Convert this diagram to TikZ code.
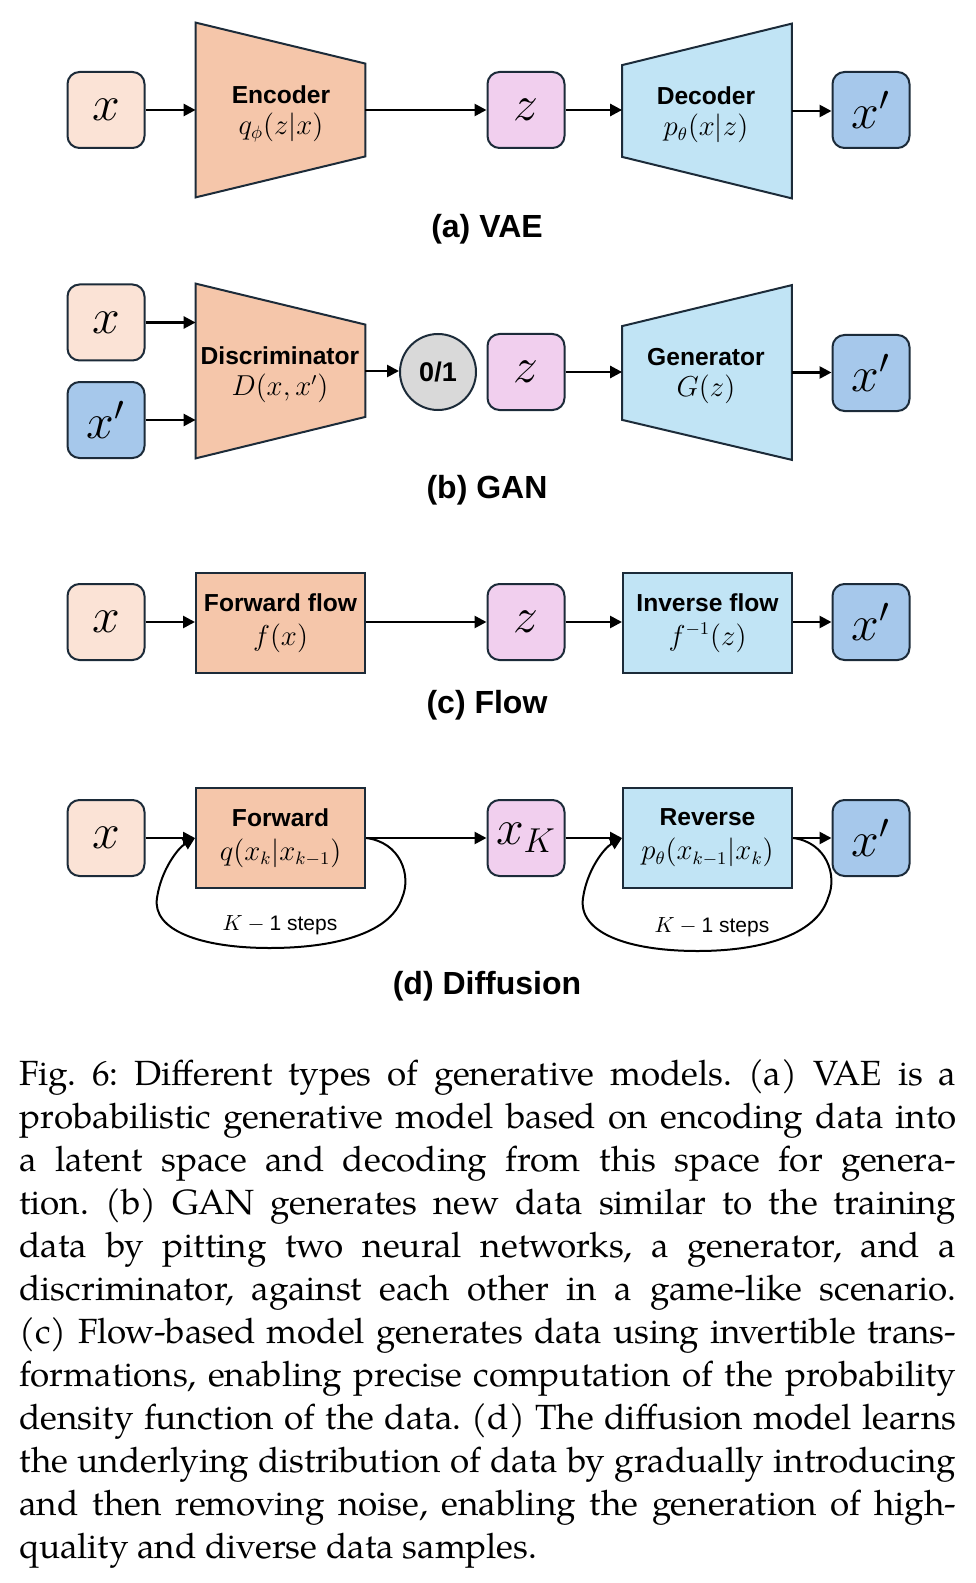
\documentclass[tikz,border=0pt]{standalone}
\usepackage[no-math]{fontspec}
\setmainfont{TeX Gyre Pagella}
\newfontfamily\labfont{Liberation Sans}
\usetikzlibrary{arrows.meta,calc}
\definecolor{peach}{HTML}{FBE3D6}
\definecolor{orng}{HTML}{F5C6AA}
\definecolor{pinkz}{HTML}{F1CFEE}
\definecolor{lblue}{HTML}{C1E4F5}
\definecolor{dblue}{HTML}{A6C8EB}
\definecolor{grayc}{HTML}{D9D9D9}
\definecolor{bord}{HTML}{1C2B39}
\pgfdeclarelayer{bg}
\pgfsetlayers{bg,main}
\newcommand\capline[1]{\hbox to 468.5pt{\frenchspacing\spaceskip=0.25em plus 0.6em minus 0.08em\relax #1}}
\newcommand\caplast[1]{\hbox to 468.5pt{\frenchspacing\spaceskip=0.25em plus 0.6em minus 0.08em\relax #1\hfil}}
\newcommand\mth[1]{{\fontsize{13.5}{15.5}\selectfont$#1$}}
\begin{document}
\begin{tikzpicture}[x=0.5pt,y=-0.5pt,
  vbox/.style={draw=bord, line width=1pt, rounded corners=6pt, minimum width=38.5pt, minimum height=38pt, inner sep=0pt, font=\fontsize{23}{24}\selectfont},
  trap/.style={minimum width=84.5pt, minimum height=87pt, inner sep=0pt, align=center, font=\labfont\bfseries\fontsize{12.3}{16}\selectfont},
  trapline/.style={draw=bord, line width=1pt, line join=miter},
  rectblk/.style={draw=bord, line width=1pt, minimum width=84.5pt, minimum height=50pt, inner sep=0pt, align=center, font=\labfont\bfseries\fontsize{12.3}{16}\selectfont},
  arr/.style={line width=1.3pt, -{Triangle[length=6pt,width=6pt]}},
  looparr/.style={line width=1pt, -{Triangle[length=6pt,width=6pt]}},
  title/.style={font=\labfont\bfseries\fontsize{16}{19}\selectfont, inner sep=0pt},
  steps/.style={font=\labfont\fontsize{10.5}{12}\selectfont, inner sep=0pt},
  lbl/.style={inner sep=0pt, align=center, font=\labfont\bfseries\fontsize{12.3}{16}\selectfont},
  capt/.style={anchor=north west, inner sep=0pt, text width=468.5pt, font=\fontsize{17.5}{21.5}\selectfont}
]
\useasboundingbox (0,0) rectangle (975,1583);

% ---------- (a) VAE ----------
\node[vbox, fill=peach] (xa) at (106,110) {$x$};
\node[trap] (enc) at (280.5,110) {};
\node[lbl] (encl) at (281,114) {Encoder\\[-0.5pt]\mth{q_\phi(z|x)}};
\node[vbox, fill=pinkz] (za) at (526,110) {$z$};
\node[trap] (dec) at (707,111) {};
\node[lbl] (decl) at (706,115) {Decoder\\[-0.5pt]\mth{p_\theta(x|z)}};
\node[vbox, fill=dblue] (xpa) at (871,110) {$x'$};
\begin{pgfonlayer}{bg}
\draw[trapline, fill=orng] (enc.north west) -- ([yshift=-20.5pt]enc.north east) -- ([yshift=20.5pt]enc.south east) -- (enc.south west) -- cycle;
\draw[trapline, fill=lblue] ([yshift=-20.75pt]dec.north west) -- (dec.north east) -- (dec.south east) -- ([yshift=20.75pt]dec.south west) -- cycle;
\end{pgfonlayer}
\draw[arr] (xa.east) -- (xa.east -| enc.west);
\draw[arr] (enc.east) -- (enc.east -| za.west);
\draw[arr] (za.east) -- (za.east -| dec.west);
\draw[arr] (dec.east) -- (dec.east -| xpa.west);
\node[title] (ta) at (487,229) {(a) VAE};

% ---------- (b) GAN ----------
\node[vbox, fill=peach] (xb) at (106,322.5) {$x$};
\node[vbox, fill=dblue] (xpb) at (106,420) {$x'$};
\node[trap] (dis) at (280.5,371) {};
\node[lbl] (disl) at (280,375) {Discriminator\\[-0.5pt]\mth{D(x,x')}};
\node[circle, draw=bord, line width=1pt, fill=grayc, minimum size=38pt, inner sep=0pt, font=\labfont\bfseries\fontsize{13.5}{15}\selectfont] (cir) at (438,372) {0/1};
\node[vbox, fill=pinkz] (zb) at (526,372) {$z$};
\node[trap] (gen) at (707,372.5) {};
\node[lbl] (genl) at (706,376) {Generator\\[-0.5pt]\mth{G(z)}};
\node[vbox, fill=dblue] (xpbb) at (871,373) {$x'$};
\begin{pgfonlayer}{bg}
\draw[trapline, fill=orng] (dis.north west) -- ([yshift=-20.5pt]dis.north east) -- ([yshift=20.75pt]dis.south east) -- (dis.south west) -- cycle;
\draw[trapline, fill=lblue] ([yshift=-20.5pt]gen.north west) -- (gen.north east) -- (gen.south east) -- ([yshift=20pt]gen.south west) -- cycle;
\end{pgfonlayer}
\draw[arr] (xb.east) -- (xb.east -| dis.west);
\draw[arr] (xpb.east) -- (xpb.east -| dis.west);
\draw[arr] (dis.east) -- (dis.east -| cir.west);
\draw[arr] (zb.east) -- (zb.east -| gen.west);
\draw[arr] (gen.east) -- (gen.east -| xpbb.west);
\node[title] (tb) at (487,490) {(b) GAN};

% ---------- (c) Flow ----------
\node[vbox, fill=peach] (xc) at (106,622) {$x$};
\node[rectblk, fill=orng] (ff) at (280.5,623) {Forward flow\\[1pt]\mth{f(x)}};
\node[vbox, fill=pinkz] (zc) at (526,622) {$z$};
\node[rectblk, fill=lblue] (inv) at (707.5,623) {Inverse flow\\[1pt]\mth{f^{-1}(z)}};
\node[vbox, fill=dblue] (xpc) at (871,622) {$x'$};
\draw[arr] (xc.east) -- (xc.east -| ff.west);
\draw[arr] (ff.east |- zc.west) -- (zc.west);
\draw[arr] (zc.east) -- (zc.east -| inv.west);
\draw[arr] (inv.east |- xpc.west) -- (xpc.west);
\node[title] (tc) at (487,705) {(c) Flow};

% ---------- (d) Diffusion ----------
\node[vbox, fill=peach] (xd) at (106,838) {$x$};
\node[rectblk, fill=orng] (fwd) at (280.5,838) {Forward\\[1pt]\mth{q(x_k|x_{k-1})}};
\node[vbox, fill=pinkz] (xk) at (526,838) {$x_K$};
\node[rectblk, fill=lblue] (rev) at (707.5,838) {Reverse\\[1pt]\mth{p_\theta(x_{k-1}|x_k)}};
\node[vbox, fill=dblue] (xpd) at (871,838) {$x'$};
\draw[arr] (xd.east) -- (fwd.west);
\draw[arr] (fwd.east) -- (xk.west);
\draw[arr] (xk.east) -- (rev.west);
\draw[arr] (rev.east) -- (xpd.west);
\draw[looparr] (fwd.east) .. controls (400,842) and (412,875) .. (402,898)
  .. controls (390,935) and (330,948) .. (270,948)
  .. controls (200,948) and (152,930) .. (157,898)
  .. controls (161,870) and (178,848) .. (fwd.west);
\draw[looparr] (rev.east) .. controls (826,842) and (838,875) .. (828,898)
  .. controls (816,937) and (756,951) .. (698,951)
  .. controls (626,951) and (578,932) .. (583,898)
  .. controls (587,870) and (604,848) .. (rev.west);
\node[steps] (sf) at (280,925) {$K-{}$1 steps};
\node[steps] (sr) at (712,927) {$K-{}$1 steps};
\node[title] (td) at (487,986) {(d) Diffusion};

% ---------- caption ----------
\node[capt] (cap) at (19,1057) {%
\capline{\rule{0pt}{14pt}Fig. 6: Different types of generative models. (a) VAE is a}
\capline{probabilistic generative model based on encoding data into}
\capline{a latent space and decoding from this space for genera-}
\capline{tion. (b) GAN generates new data similar to the training}
\capline{data by pitting two neural networks, a generator, and a}
\capline{discriminator, against each other in a game-like scenario.}
\capline{(c) Flow-based model generates data using invertible trans-}
\capline{formations, enabling precise computation of the probability}
\capline{density function of the data. (d) The diffusion model learns}
\capline{the underlying distribution of data by gradually introducing}
\capline{and then removing noise, enabling the generation of high-}
\caplast{quality and diverse data samples.}};
\end{tikzpicture}
\end{document}
